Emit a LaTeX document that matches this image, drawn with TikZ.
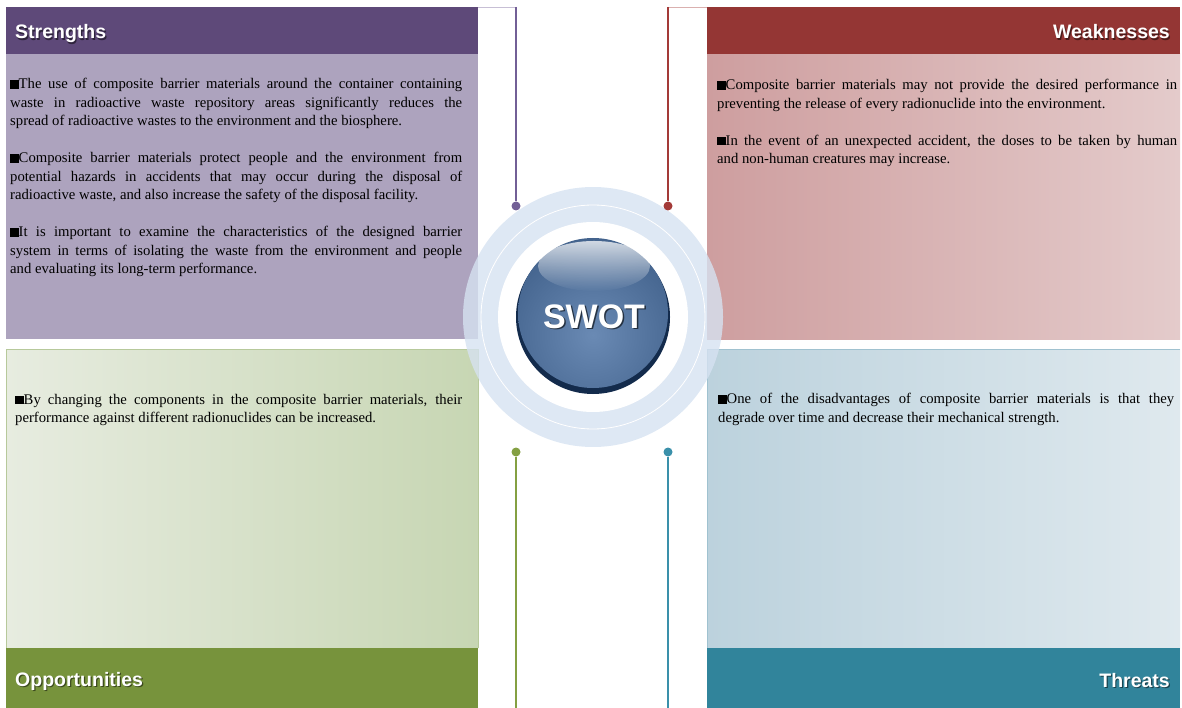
\documentclass[tikz,border=0pt]{standalone}
\usepackage{fontspec}
\setmainfont{Liberation Serif}
\newfontfamily\headfont{Liberation Sans}
\usepackage{xcolor}
\usepackage{tikz}
\usetikzlibrary{positioning,calc,fadings}

\definecolor{spurple}{HTML}{5E4979}
\definecolor{sbody}{HTML}{ADA3BE}
\definecolor{sline}{HTML}{725F96}
\definecolor{wred}{HTML}{943634}
\definecolor{wbodyl}{HTML}{CE9E9F}
\definecolor{wbodyr}{HTML}{E4CBCB}
\definecolor{wline}{HTML}{A33A38}
\definecolor{ogreen}{HTML}{77933C}
\definecolor{obodyl}{HTML}{E7ECE0}
\definecolor{obodyr}{HTML}{C7D6B3}
\definecolor{oline}{HTML}{84A042}
\definecolor{tteal}{HTML}{31849B}
\definecolor{tbodyl}{HTML}{BCD2DD}
\definecolor{tbodyr}{HTML}{DFE9EE}
\definecolor{tline}{HTML}{3A90AA}
\definecolor{ringblue}{HTML}{D6E2F1}
\definecolor{balldark}{HTML}{132B4C}
\definecolor{ballmid}{HTML}{2E4E78}
\definecolor{balllight}{HTML}{6A8AB4}

\hyphenpenalty=10000
\exhyphenpenalty=10000
\tolerance=9999

\tikzset{
  head/.style={font=\headfont\bfseries\fontsize{19.5}{22}\selectfont,text=white,inner sep=0pt},
  headshadow/.style={font=\headfont\bfseries\fontsize{19.5}{22}\selectfont,text=black,opacity=0.5,inner sep=0pt},
  bodytext/.style={text width=#1,align=justify,anchor=north west,inner sep=0pt,
    font=\fontsize{14.7}{18.5}\selectfont},
  knob/.style={circle,fill=#1,inner sep=0pt,minimum size=9pt},
}
\newcommand{\sq}{\leavevmode\vrule width 8.5pt height 8.5pt depth 0pt\relax}
\newcommand{\gap}{\par\vspace{18.5pt}}

\begin{document}
\begin{tikzpicture}[x=1pt,y=-1pt,transform shape]
    \useasboundingbox (0,0) rectangle (1182,708);
    % quadrants
    \fill[sbody] (6,54) rectangle (478,339);
    \fill[spurple] (6,7) rectangle (478,54);
    \shade[left color=wbodyl,right color=wbodyr] (707,54) rectangle (1180,339);
    \fill[wred] (707,7) rectangle (1180,54);
    \shade[left color=obodyl,right color=obodyr] (6,349) rectangle (478,648);
    \draw[obodyr!80!ogreen,line width=0.6pt] (6,648) -- (6,349) -- (478,349) -- (478,648);
    \fill[ogreen] (6,648) rectangle (478,708);
    \shade[left color=tbodyl,right color=tbodyr] (707,349) rectangle (1180,648);
    \draw[tbodyl!80!tteal,line width=0.6pt] (707,648) -- (707,349) -- (1180,349);
    \fill[tteal] (707,648) rectangle (1180,708);
    % rings
    \coordinate (centre) at (593,317);
    \fill[ringblue,fill opacity=0.8] (centre) circle (130);
    \draw[white,line width=0.8pt] (centre) circle (112);
    \fill[white] (centre) circle (95);
    % connectors
    \coordinate (s corner) at (478,7);
    \coordinate (s top) at (516,7);
    \node[knob=sline] (s knob) at (516,206) {};
    \draw[sline!40,line width=0.6pt] (s corner) -- (s top);
    \draw[sline,line width=1.5pt] (s top) -- (s knob);
    \coordinate (w corner) at (707,7);
    \coordinate (w top) at (668,7);
    \node[knob=wline] (w knob) at (668,206) {};
    \draw[wline!40,line width=0.6pt] (w corner) -- (w top);
    \draw[wline,line width=1.5pt] (w top) -- (w knob);
    \node[knob=oline] (o knob) at (516,452) {};
    \coordinate (o end) at (516,708);
    \draw[oline,line width=1.5pt] (o knob) -- (o end);
    \node[knob=tline] (t knob) at (668,452) {};
    \coordinate (t end) at (668,708);
    \draw[tline,line width=1.5pt] (t knob) -- (t end);
    % ball
    \fill[balldark] (centre) circle (77);
    \begin{scope}
        \clip (593,313) circle (75);
        \shade[inner color=balllight,outer color=ballmid] (593,335) circle (150);
    \end{scope}
    \fill[white,path fading=south,fill opacity=0.75] (594,266) ellipse (56 and 25);
    \node[font=\headfont\bfseries\fontsize{34}{40}\selectfont,text=black,opacity=0.6,anchor=base] (swot shadow) at (595.5,329.5) {SWOT};
    \node[font=\headfont\bfseries\fontsize{34}{40}\selectfont,text=white,anchor=base] (swot) at (594,328) {SWOT};
    % headings
    \node[headshadow,anchor=base west] (s shadow) at (16.2,40.2) {Strengths};
    \node[head,anchor=base west] (s head) at (15,39) {Strengths};
    \node[headshadow,anchor=base east] (w shadow) at (1171.2,40.2) {Weaknesses};
    \node[head,anchor=base east] (w head) at (1170,39) {Weaknesses};
    \node[headshadow,anchor=base west] (o shadow) at (16.2,687.2) {Opportunities};
    \node[head,anchor=base west] (o head) at (15,686) {Opportunities};
    \node[headshadow,anchor=base east] (t shadow) at (1171.2,688.2) {Threats};
    \node[head,anchor=base east] (t head) at (1170,687) {Threats};
    % texts
    \node[bodytext=452pt] (s text) at (10,78) {\sq The use of composite barrier materials around the container containing\linebreak waste in radioactive waste repository areas significantly reduces the\linebreak spread of radioactive wastes to the environment and the biosphere.\gap
        \sq Composite barrier materials protect people and the environment from\linebreak potential hazards in accidents that may occur during the disposal of\linebreak radioactive waste, and also increase the safety of the disposal facility.\gap
        \sq It is important to examine the characteristics of the designed barrier\linebreak system in terms of isolating the waste from the environment and people\linebreak and evaluating its long-term performance.};
    \node[bodytext=460pt] (w text) at (717,79) {\sq Composite barrier materials may not provide the desired performance in\linebreak preventing the release of every radionuclide into the environment.\gap
        \sq In the event of an unexpected accident, the doses to be taken by human\linebreak and non-human creatures may increase.};
    \node[bodytext=447pt] (o text) at (15,394) {\sq By changing the components in the composite barrier materials, their\linebreak performance against different radionuclides can be increased.};
    \node[bodytext=456pt] (t text) at (718,393) {\sq One of the disadvantages of composite barrier materials is that they\linebreak degrade over time and decrease their mechanical strength.};
\end{tikzpicture}
\end{document}
